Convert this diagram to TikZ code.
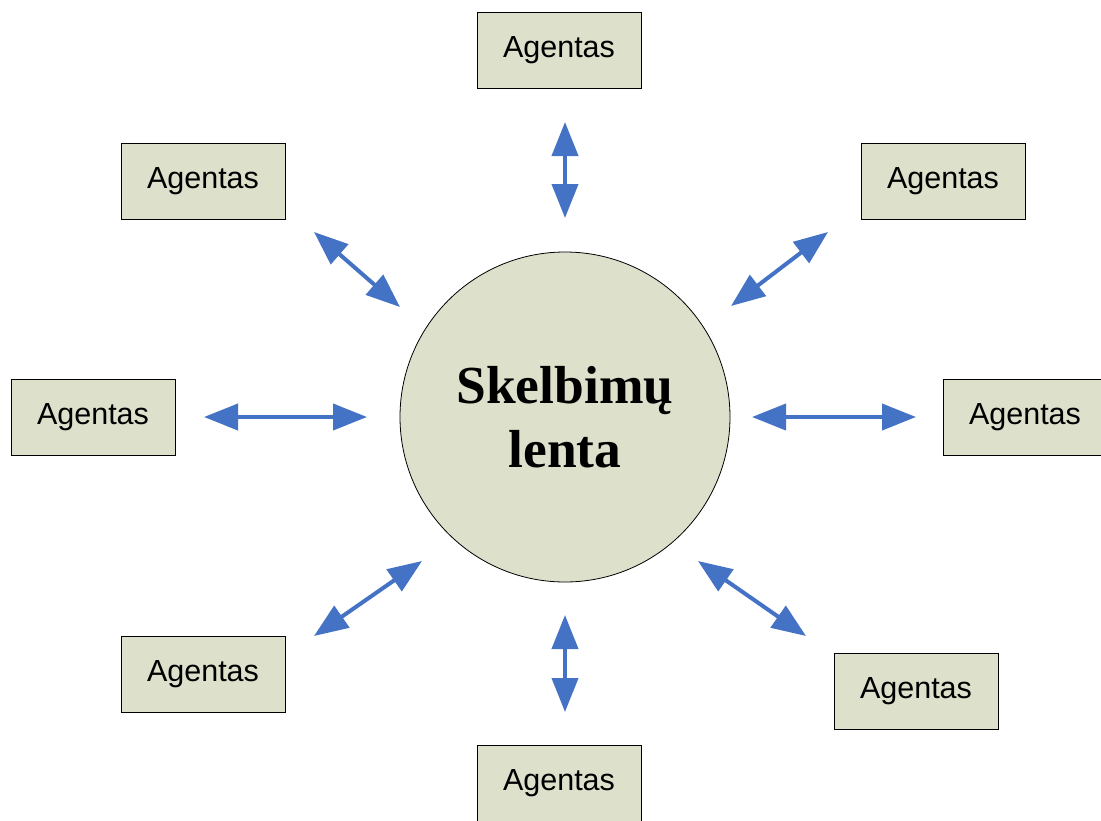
\documentclass[tikz,border=0pt]{standalone}
\usepackage{fontspec}
\setmainfont{Liberation Sans}
\newfontfamily\boardfont{Liberation Serif}
\usetikzlibrary{arrows.meta}
\definecolor{panel}{RGB}{221,224,203}
\definecolor{linkblue}{RGB}{68,114,196}
\begin{document}
\begin{tikzpicture}[x=1pt,y=-1pt,
  agent/.style={draw=black,line width=0.8pt,fill=panel,minimum width=164pt,minimum height=76pt,
    inner sep=0pt,font=\fontsize{30.5}{36}\selectfont},
  board/.style={circle,draw=black,line width=0.8pt,fill=panel,minimum size=330pt,inner sep=0pt,
    align=center,font=\boardfont\bfseries\fontsize{53.5}{64}\selectfont},
  link/.style={draw=linkblue,line width=4pt,
    {Triangle[length=34pt,width=26pt]}-{Triangle[length=34pt,width=26pt]},color=linkblue}]
\useasboundingbox (0,0) rectangle (1101,820);
% central board
\node[board] (lenta) at (565,417) {Skelbimų\\lenta};
% agents around it
\node[agent] (a1) at (559,50)  {Agentas};
\node[agent] (a2) at (943,181) {Agentas};
\node[agent] (a3) at (1025,417) {Agentas};
\node[agent] (a4) at (916,691) {Agentas};
\node[agent] (a5) at (559,783) {Agentas};
\node[agent] (a6) at (203,674) {Agentas};
\node[agent] (a7) at (93,417)  {Agentas};
\node[agent] (a8) at (203,181) {Agentas};
% arrow end points
\coordinate (p1a) at (565,122); \coordinate (p1b) at (565,218);
\coordinate (p2a) at (828,232); \coordinate (p2b) at (731,306);
\coordinate (p3a) at (916,417); \coordinate (p3b) at (752,417);
\coordinate (p4a) at (806,636); \coordinate (p4b) at (698,561);
\coordinate (p5a) at (565,712); \coordinate (p5b) at (565,615);
\coordinate (p6a) at (314,636); \coordinate (p6b) at (422,561);
\coordinate (p7a) at (204,417); \coordinate (p7b) at (367,417);
\coordinate (p8a) at (314,232); \coordinate (p8b) at (400,307);
\foreach \i in {1,...,8} \draw[link] (p\i a) -- (p\i b);
\end{tikzpicture}
\end{document}
